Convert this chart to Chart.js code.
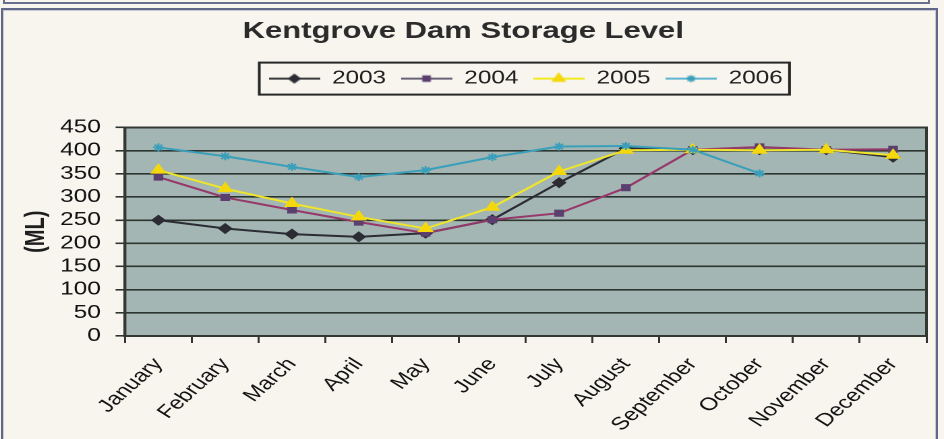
<!DOCTYPE html>
<html>
<head>
<meta charset="utf-8">
<title>Kentgrove Dam Storage Level</title>
<script src="https://cdn.jsdelivr.net/npm/chart.js@4.4.1/dist/chart.umd.min.js"></script>
<style>
  html, body { margin: 0; padding: 0; }
  body { width: 944px; height: 439px; overflow: hidden; background: #f7f5ee; position: relative; }
  .prev-box { position: absolute; left: 3px; top: -30px; width: 923px; height: 30px; border: 2px solid #6a6e8e; }
  .frame { position: absolute; left: 1px; top: 8px; width: 933px; height: 450px; border: 2px solid #62678a; box-shadow: inset 0 0 0 1px #c9c9d6; }
  /* the scanned chart is stretched sideways, so draw narrow and widen it */
  .stretch { position: absolute; left: 0; top: 0; width: 700px; height: 439px; transform: scaleX(1.348571); transform-origin: 0 0; }
</style>
</head>
<body>
<div class="prev-box"></div>
<div class="frame"></div>
<div class="stretch"><canvas id="damChart"></canvas></div>
<script>
// Data
const months = ['January', 'February', 'March', 'April', 'May', 'June', 'July', 'August', 'September', 'October', 'November', 'December'];
const years = ['2003', '2004', '2005', '2006'];
const level2003 = [250, 232, 220, 214, 222, 251, 331, 405, 402, 402, 402, 386];
const level2004 = [343, 299, 272, 246, 222, 251, 265, 320, 402, 408, 402, 403];
const level2005 = [358, 318, 286, 257, 232, 278, 355, 401, 402, 401, 402, 390];
const level2006 = [407, 388, 365, 343, 358, 386, 409, 410, 402, 351, null, null];
const yMin = 0, yMax = 450, yStep = 50;

const FONT = "'Liberation Sans', Arial, sans-serif";

const styles = [
  { line: '#2c2c34', legendLine: '#3a3a3a', marker: '#2c2c34', shape: 'rectRot', r: 4.5 },
  { line: '#96386a', legendLine: '#6a6078', marker: '#5b3f6e', shape: 'rect', r: 4 },
  { line: '#eee52c', legendLine: '#f0ea20', marker: '#f4d80c', shape: 'triangle', r: 5.5 },
  { line: '#3a9fba', legendLine: '#5fb6d2', marker: '#3a9fba', shape: 'star', r: 4 }
];

// little line+marker pictures for the legend
function legendSwatch(st) {
  const c = document.createElement('canvas');
  c.width = 38; c.height = 14;
  const g = c.getContext('2d');
  g.strokeStyle = st.legendLine; g.lineWidth = 2;
  g.beginPath(); g.moveTo(0, 7); g.lineTo(38, 7); g.stroke();
  g.fillStyle = st.marker; g.strokeStyle = st.marker; g.lineWidth = 1.5;
  Chart.helpers.drawPoint(g, { pointStyle: st.shape, radius: st.r - 0.5, rotation: 0, borderWidth: 1 }, 19, 7);
  return c;
}
const swatches = styles.map(legendSwatch);

// Plot panel background + frame
const plotPanel = {
  id: 'plotPanel',
  beforeDraw(chart) {
    const { ctx, chartArea: a } = chart;
    ctx.save();
    ctx.fillStyle = '#a3b6b3';
    ctx.fillRect(a.left, a.top, a.right - a.left, a.bottom - a.top);
    ctx.restore();
  },
  beforeDatasetsDraw(chart) {
    const { ctx, chartArea: a } = chart;
    ctx.save();
    ctx.strokeStyle = '#333833';
    ctx.lineWidth = 2;
    ctx.strokeRect(a.left, a.top, a.right - a.left, a.bottom - a.top);
    ctx.restore();
  }
};

// Box round the legend
const legendFrame = {
  id: 'legendFrame',
  afterDraw(chart) {
    const boxes = chart.legend.legendHitBoxes;
    if (!boxes || !boxes.length) return;
    const first = boxes[0], last = boxes[boxes.length - 1];
    const { ctx } = chart;
    ctx.save();
    ctx.strokeStyle = '#262626';
    ctx.lineWidth = 2;
    ctx.strokeRect(first.left - 7, first.top - 7, last.left + last.width + 5 - (first.left - 7), first.height + 14);
    ctx.restore();
  }
};

new Chart(document.getElementById('damChart'), {
  type: 'line',
  data: {
    labels: months,
    datasets: [level2003, level2004, level2005, level2006].map((vals, i) => ({
      label: years[i],
      data: vals,
      borderColor: styles[i].line,
      backgroundColor: styles[i].marker,
      pointBackgroundColor: styles[i].marker,
      pointBorderColor: styles[i].marker,
      pointStyle: styles[i].shape,
      pointRadius: styles[i].r,
      pointBorderWidth: 1.5,
      borderWidth: 2,
      tension: 0,
      order: 3 - i
    }))
  },
  options: {
    responsive: true,
    maintainAspectRatio: false,
    devicePixelRatio: 2,
    animation: false,
    layout: { padding: { left: 0, right: 13, top: 0, bottom: 0 } },
    plugins: {
      title: {
        display: true,
        text: 'Kentgrove Dam Storage Level',
        color: '#2b2b2b',
        font: { family: FONT, size: 23, weight: 'bold' },
        padding: { top: 18, bottom: 13 }
      },
      subtitle: { display: true, text: '', weight: 500, font: { size: 10, lineHeight: 1 }, padding: { top: 0, bottom: 19.9 } },
      legend: {
        position: 'top',
        fullSize: false,
        labels: {
          usePointStyle: true,
          pointStyleWidth: 38,
          padding: 11,
          color: '#1e1e1e',
          font: { family: FONT, size: 18 },
          generateLabels: chart => chart.data.datasets.map((ds, i) => ({
            text: ds.label,
            pointStyle: swatches[i],
            datasetIndex: i,
            hidden: false,
            fillStyle: ds.borderColor,
            strokeStyle: ds.borderColor,
            lineWidth: 0,
            fontColor: '#1e1e1e'
          }))
        }
      },
      tooltip: { enabled: false }
    },
    scales: {
      x: {
        offset: true,
        afterFit(s) { s.height = 103; },
        grid: { display: true, offset: true, drawOnChartArea: false, drawTicks: true, tickLength: 7, color: '#333', lineWidth: 1.5 },
        border: { display: true, color: '#333', width: 2 },
        ticks: { autoSkip: false, minRotation: 50, maxRotation: 50, padding: 11, color: '#111', font: { family: FONT, size: 18 } }
      },
      y: {
        min: yMin,
        max: yMax,
        afterFit(s) { s.width = 92.7; },
        grid: { color: '#2d3530', lineWidth: 1.6, tickLength: 7 },
        border: { display: true, color: '#333', width: 2 },
        ticks: { stepSize: yStep, autoSkip: false, padding: 11, color: '#111', font: { family: FONT, size: 18 } },
        title: { display: true, text: '(ML)', color: '#1e1e1e', font: { family: FONT, size: 20, weight: 'bold' }, padding: { top: 15, bottom: 0 } }
      }
    }
  },
  plugins: [plotPanel, legendFrame]
});
</script>
</body>
</html>
